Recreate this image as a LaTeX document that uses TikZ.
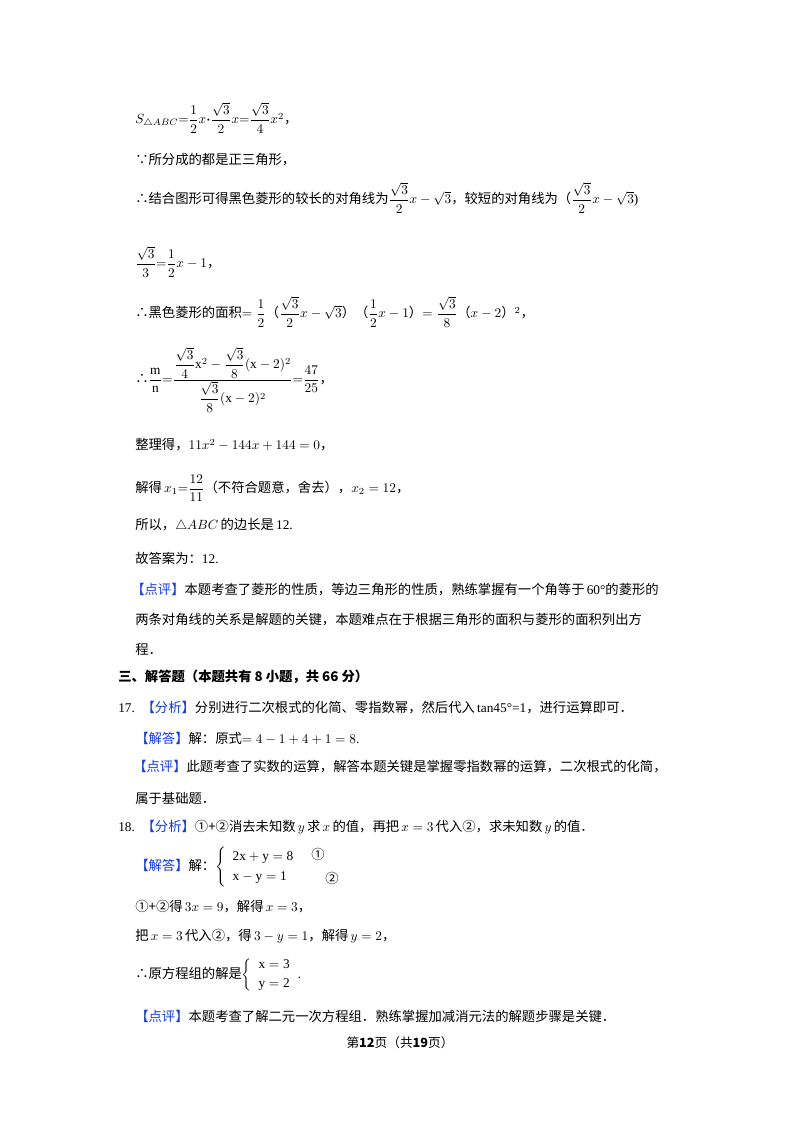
\documentclass[tikz,border=0pt]{standalone}
\usepackage{amsmath}
\usepackage{fontspec}
\setmainfont{Liberation Serif}
\newfontfamily\cjk{Noto Sans CJK SC}
\newcommand{\zh}[1]{{\cjk #1}}
\definecolor{tagblue}{RGB}{20,60,230}
\newcommand{\tagb}[1]{\textcolor{tagblue}{\zh{【#1】}}}
\begin{document}
\begin{tikzpicture}[x=0.75pt,y=-0.75pt,
  txt/.style={anchor=west,inner sep=0pt,font=\fontsize{10}{12}\selectfont}]
\useasboundingbox[fill=white] (0,0) rectangle (800,1132);
\node[txt] (l1) at (135,118) {$S_{\triangle ABC}{=}\dfrac{1}{2}x{\boldsymbol{\cdot}}\dfrac{\sqrt3}{2}x{=}\dfrac{\sqrt3}{4}x^2$\zh{，}};
\node[txt] (l2) at (135,160) {\zh{∵所分成的都是正三角形，}};
\node[txt] (l3) at (135,198) {\zh{∴结合图形可得黑色菱形的较长的对角线为}$\dfrac{\sqrt3}{2}x-\sqrt3$\zh{，较短的对角线为（}$\dfrac{\sqrt3}{2}x-\sqrt3$)};
\node[txt] (l4) at (135,262) {$\dfrac{\sqrt3}{3}{=}\dfrac{1}{2}x-1$\zh{，}};
\node[txt] (l5) at (135,312) {\zh{∴黑色菱形的面积}$=\dfrac{1}{2}$\zh{（}$\dfrac{\sqrt3}{2}x-\sqrt3$\zh{）（}$\dfrac{1}{2}x-1$\zh{）}$=\dfrac{\sqrt3}{8}$\zh{（}$x-2$\zh{）}$^2$\zh{，}};
\node[txt] (l6) at (135,380) {\zh{∴}$\dfrac{\mathrm m}{\mathrm n}{=}\dfrac{\dfrac{\sqrt3}{4}\mathrm{x}^2-\dfrac{\sqrt3}{8}(\mathrm x-2)^2}{\dfrac{\sqrt3}{8}(\mathrm x-2)^2}{=}\dfrac{47}{25}$\zh{，}};
\node[txt] (l7) at (135,445) {\zh{整理得，}$11x^2-144x+144=0$\zh{，}};
\node[txt] (l8) at (135,488) {\zh{解得}$\,x_1{=}\dfrac{12}{11}$\zh{（不符合题意，舍去），}$x_2=12$\zh{，}};
\node[txt] (l9) at (135,525) {\zh{所以，}$\triangle ABC$\,\zh{的边长是}\,12.};
\node[txt] (l10) at (135,558) {\zh{故答案为：}12.};
\node[txt] (l11) at (131,590) {\tagb{点评}\zh{本题考查了菱形的性质，等边三角形的性质，熟练掌握有一个角等于}\,60°\zh{的菱形的}};
\node[txt] (l12) at (135,620) {\zh{两条对角线的关系是解题的关键，本题难点在于根据三角形的面积与菱形的面积列出方}};
\node[txt] (l13) at (135,650) {\zh{程．}};
\node[txt] (l14) at (118,677) {\zh{\bfseries 三、解答题（本题共有 8 小题，共 66 分）}};
\node[txt] (l15) at (118,708) {17.\ \ \tagb{分析}\zh{分别进行二次根式的化简、零指数幂，然后代入}\,tan45°=1\zh{，进行运算即可．}};
\node[txt] (l16) at (135,738) {\tagb{解答}\zh{解：原式}$=4-1+4+1=8$.};
\node[txt] (l17) at (133,767) {\tagb{点评}\zh{此题考查了实数的运算，解答本题关键是掌握零指数幂的运算，二次根式的化简，}};
\node[txt] (l18) at (135,798) {\zh{属于基础题．}};
\node[txt] (l19) at (118,827) {18.\ \ \tagb{分析}\zh{①+②消去未知数}\,$y$\,\zh{求}\,$x$\,\zh{的值，再把}\,$x=3$\,\zh{代入②，求未知数}\,$y$\,\zh{的值．}};
\node[txt] (l20) at (135,867) {\tagb{解答}\zh{解：}$\left\{\begin{array}{l}\mathrm{2x+y=8}\\[3pt] \mathrm{x-y=1}\end{array}\right.$};
\node[txt] (c1) at (311,854) {\zh{①}};
\node[txt] (c2) at (325,878) {\zh{②}};
\node[txt] (l21) at (135,907) {\zh{①+②得}\,$3x=9$\zh{，解得}\,$x=3$\zh{，}};
\node[txt] (l22) at (135,936) {\zh{把}\,$x=3$\,\zh{代入②，得}\,$3-y=1$\zh{，解得}\,$y=2$\zh{，}};
\node[txt] (l23) at (135,975) {\zh{∴原方程组的解是}$\left\{\begin{array}{l}\mathrm{x=3}\\[2pt] \mathrm{y=2}\end{array}\right.$.};
\node[txt] (l24) at (135,1016) {\tagb{点评}\zh{本题考查了解二元一次方程组．熟练掌握加减消元法的解题步骤是关键．}};
\node[anchor=center,inner sep=0pt,font=\fontsize{9.5}{12}\selectfont] (ft) at (400,1043) {\zh{第{\bfseries 12}页（共{\bfseries 19}页）}};
\end{tikzpicture}
\end{document}
